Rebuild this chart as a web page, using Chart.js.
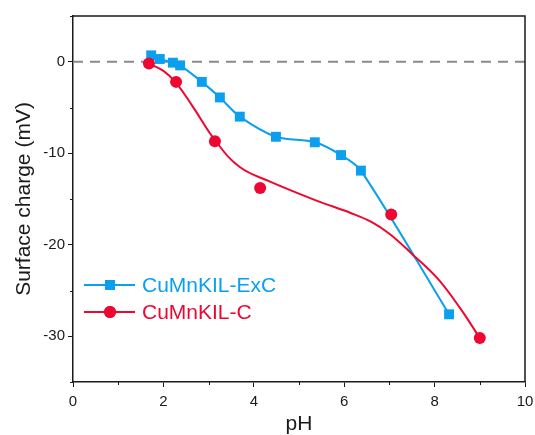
<!DOCTYPE html>
<html>
<head>
<meta charset="utf-8">
<title>Surface charge vs pH</title>
<script src="https://cdn.jsdelivr.net/npm/chart.js@4.4.1/dist/chart.umd.min.js"></script>
<style>
  html, body { margin: 0; padding: 0; background: #fff; }
  #wrap { width: 535px; height: 435px; position: relative; }
</style>
</head>
<body>
<div id="wrap"><canvas id="zetaChart"></canvas></div>
<script>
// Measured points
const phExC = [1.73, 1.92, 2.21, 2.37, 2.85, 3.25, 3.69, 4.49, 5.35, 5.93, 6.37, 8.32];
const chargeExC = [0.7, 0.3, -0.1, -0.4, -2.2, -3.9, -6.0, -8.2, -8.8, -10.2, -11.9, -27.6];
const phC = [1.68, 2.28, 3.14, 4.14, 7.04, 9.0];
const chargeC = [-0.2, -2.2, -8.7, -13.8, -16.7, -30.2];

// Fitted trend for CuMnKIL-C
const fitPhC = [1.68, 2.0, 2.28, 2.65, 3.16, 3.69, 4.36, 5.4, 6.13, 6.6, 7.0, 7.5, 8.05, 8.56, 9.0];
const fitChargeC = [-0.2, -1.0, -2.3, -4.9, -8.7, -11.5, -13.1, -15.2, -16.5, -17.5, -18.8, -21.0, -23.6, -26.9, -30.2];

// Zero reference
const zeroPh = [0, 10];
const zeroCharge = [0, 0];

// Axis ticks
const xTicks = [0, 2, 4, 6, 8, 10];
const xMinor = [1, 3, 5, 7, 9];
const yTicks = [-30, -20, -10, 0];
const yMinor = [-35, -25, -15, -5, 5];

const BLUE = '#0aa0ef';
const RED = '#ee0730';
const INK = '#1a1a1a';
const FONT = '"Liberation Sans", Arial, sans-serif';

function toPoints(xs, ys) {
  return xs.map((x, i) => ({ x: x, y: ys[i] }));
}

// Frame on top/right plus the short minor ticks
const framePlugin = {
  id: 'frame',
  afterDraw(chart) {
    const { ctx, chartArea: a, scales } = chart;
    ctx.save();
    ctx.strokeStyle = INK;
    ctx.lineWidth = 1.5;
    ctx.beginPath();
    ctx.moveTo(a.left, a.top);
    ctx.lineTo(a.right, a.top);
    ctx.lineTo(a.right, a.bottom);
    ctx.stroke();
    ctx.lineWidth = 1;
    ctx.beginPath();
    xMinor.forEach(v => {
      const px = Math.round(scales.x.getPixelForValue(v)) + 0.5;
      ctx.moveTo(px, a.bottom);
      ctx.lineTo(px, a.bottom + 3);
    });
    yMinor.forEach(v => {
      const py = Math.round(scales.y.getPixelForValue(v)) + 0.5;
      ctx.moveTo(a.left, py);
      ctx.lineTo(a.left - 3, py);
    });
    ctx.stroke();
    ctx.restore();
  }
};

// Legend drawn inside the plot area
const insideLegend = {
  id: 'insideLegend',
  afterDatasetsDraw(chart) {
    const { ctx } = chart;
    const items = [
      { label: 'CuMnKIL-ExC', color: BLUE, style: 'rect', r: 7 },
      { label: 'CuMnKIL-C', color: RED, style: 'circle', r: 6 }
    ];
    ctx.save();
    ctx.font = '21px ' + FONT;
    ctx.textBaseline = 'middle';
    items.forEach((it, i) => {
      const y = 285 + i * 27;
      ctx.strokeStyle = it.color;
      ctx.lineWidth = 2;
      ctx.beginPath();
      ctx.moveTo(84, y);
      ctx.lineTo(135, y);
      ctx.stroke();
      ctx.fillStyle = it.color;
      Chart.helpers.drawPoint(ctx, { pointStyle: it.style, radius: it.r, borderWidth: 0 }, 110, y);
      ctx.fill();
      ctx.fillText(it.label, 142, y + 1);
    });
    ctx.restore();
  }
};

new Chart(document.getElementById('zetaChart'), {
  type: 'line',
  data: {
    datasets: [
      {
        label: 'zero',
        data: toPoints(zeroPh, zeroCharge),
        borderColor: '#8a8a8a',
        borderWidth: 2,
        borderDash: [10, 7],
        pointRadius: 0,
        order: 4
      },
      {
        label: 'CuMnKIL-ExC',
        data: toPoints(phExC, chargeExC),
        borderColor: BLUE,
        backgroundColor: BLUE,
        borderWidth: 2,
        tension: 0.3,
        pointStyle: 'rect',
        pointRadius: 7,
        pointBorderWidth: 0,
        order: 3
      },
      {
        label: 'CuMnKIL-C fit',
        data: toPoints(fitPhC, fitChargeC),
        borderColor: RED,
        borderWidth: 2,
        tension: 0.4,
        pointRadius: 0,
        order: 2
      },
      {
        label: 'CuMnKIL-C',
        data: toPoints(phC, chargeC),
        showLine: false,
        backgroundColor: RED,
        borderColor: RED,
        pointStyle: 'circle',
        pointRadius: 6,
        pointBorderWidth: 0,
        order: 1
      }
    ]
  },
  options: {
    responsive: true,
    maintainAspectRatio: false,
    animation: false,
    layout: { padding: { top: 16, right: 10, left: 0, bottom: 0 } },
    plugins: {
      legend: { display: false },
      tooltip: { enabled: false }
    },
    scales: {
      x: {
        type: 'linear',
        min: 0,
        max: 10,
        afterFit: s => { s.height = 53; s.paddingLeft = 0; s.paddingRight = 0; },
        afterBuildTicks: s => { s.ticks = xTicks.map(v => ({ value: v })); },
        border: { display: true, color: INK, width: 1.5 },
        grid: { drawOnChartArea: false, tickLength: 5, tickColor: INK, tickWidth: 1 },
        ticks: { color: INK, padding: 6, maxRotation: 0, font: { family: FONT, size: 15 } },
        title: {
          display: true,
          text: 'pH',
          color: INK,
          padding: { top: 0, bottom: 0 },
          font: { family: FONT, size: 21, lineHeight: 1 }
        }
      },
      y: {
        type: 'linear',
        min: -35,
        max: 5,
        afterFit: s => { s.width = 73; s.paddingTop = 0; s.paddingBottom = 0; },
        afterBuildTicks: s => { s.ticks = yTicks.map(v => ({ value: v })); },
        border: { display: true, color: INK, width: 1.5 },
        grid: { drawOnChartArea: false, tickLength: 5, tickColor: INK, tickWidth: 1 },
        ticks: { color: INK, padding: 3, font: { family: FONT, size: 15 } },
        title: {
          display: true,
          text: 'Surface charge (mV)',
          color: INK,
          padding: { top: 14, bottom: 0 },
          font: { family: FONT, size: 21, lineHeight: 1 }
        }
      }
    }
  },
  plugins: [framePlugin, insideLegend]
});
</script>
</body>
</html>
